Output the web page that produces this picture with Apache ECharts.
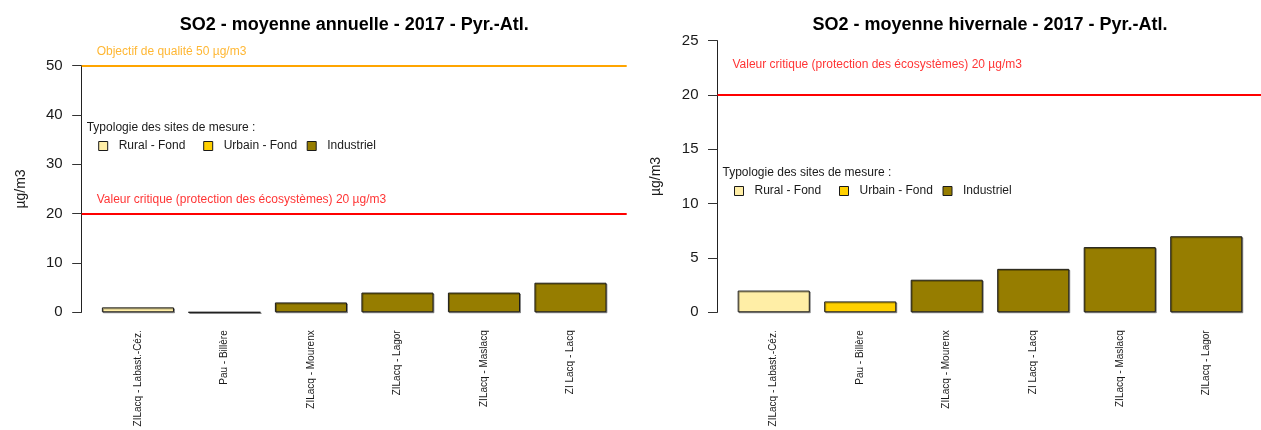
<!DOCTYPE html>
<html>
<head>
<meta charset="utf-8">
<script src="https://cdn.jsdelivr.net/npm/echarts@6/dist/echarts.min.js"></script>
<style>
  html, body { margin: 0; padding: 0; background: #fff; }
  #chart { width: 1261px; height: 430px; }
</style>
</head>
<body>
<div id="chart"></div>
<script>
// SO2 concentrations 2017, Pyrénées-Atlantiques (µg/m3)
const typologies = ['Rural - Fond', 'Urbain - Fond', 'Industriel'];
const typologyColors = ['#FFEEA6', '#FFD000', '#967D00'];

const annualSites = ['ZILacq - Labast.-Céz.', 'Pau - Billère', 'ZILacq - Mourenx', 'ZILacq - Lagor', 'ZILacq - Maslacq', 'ZI Lacq - Lacq'];
const annualTypes = ['Rural - Fond', 'Urbain - Fond', 'Industriel', 'Industriel', 'Industriel', 'Industriel'];
const annualValues = [1, 0, 2, 4, 4, 6];

const winterSites = ['ZILacq - Labast.-Céz.', 'Pau - Billère', 'ZILacq - Mourenx', 'ZI Lacq - Lacq', 'ZILacq - Maslacq', 'ZILacq - Lagor'];
const winterTypes = ['Rural - Fond', 'Urbain - Fond', 'Industriel', 'Industriel', 'Industriel', 'Industriel'];
const winterValues = [2, 1, 3, 4, 6, 7];

const annualThresholds = [
  { value: 50, text: 'Objectif de qualité 50 µg/m3', color: '#FFA500' },
  { value: 20, text: 'Valeur critique (protection des écosystèmes) 20 µg/m3', color: '#FF0000' }
];
const winterThresholds = [
  { value: 20, text: 'Valeur critique (protection des écosystèmes) 20 µg/m3', color: '#FF0000' }
];

const annualAxis = { max: 50, interval: 10 };
const winterAxis = { max: 25, interval: 5 };

const FONT = '"Liberation Sans", Arial, Helvetica, sans-serif';
const TEXT = '#1a1a1a';

// Panel geometry: plot region spans plotLeft..plotLeft+plotWidth,
// bars occupy an inner band (R barplot style margins).
const panels = [
  { title: 'SO2 - moyenne annuelle - 2017 - Pyr.-Atl.', sites: annualSites, types: annualTypes, values: annualValues,
    thresholds: annualThresholds, axis: annualAxis, plotLeft: 81.7, top: 65.7, legendY: 129 },
  { title: 'SO2 - moyenne hivernale - 2017 - Pyr.-Atl.', sites: winterSites, types: winterTypes, values: winterValues,
    thresholds: winterThresholds, axis: winterAxis, plotLeft: 717.5, top: 40.7, legendY: 174 }
];
const UNIT = 72.09;               // one bar width in px
const PLOT_WIDTH = 7.56 * UNIT;   // plot region width
const BAR_INSET = 0.18 * UNIT;    // gap between plot edge and category band
const BOTTOM = 430 - 312.3;

const option = {
  animation: false,
  backgroundColor: '#fff',
  textStyle: { fontFamily: FONT },
  title: [], grid: [], xAxis: [], yAxis: [], series: [], legend: []
};

panels.forEach((p, k) => {
  const gLines = 2 * k, gBars = 2 * k + 1;
  // Title centred on the plot region
  option.title.push({
    text: p.title, left: p.plotLeft + PLOT_WIDTH / 2, top: 16, textAlign: 'center', padding: 0,
    textStyle: { fontFamily: FONT, fontSize: 18, fontWeight: 'bold', color: '#000' }
  });
  option.title.push({
    text: 'Typologie des sites de mesure :', left: p.plotLeft + 5, top: p.legendY - 7, padding: 0,
    textStyle: { fontFamily: FONT, fontSize: 12, fontWeight: 'normal', color: TEXT }
  });

  // Grid holding the y axis and the reference lines
  option.grid.push({ left: p.plotLeft, width: PLOT_WIDTH, top: p.top, bottom: BOTTOM, containLabel: false });
  // Grid holding the bars
  option.grid.push({ left: p.plotLeft + BAR_INSET, width: PLOT_WIDTH - 2 * BAR_INSET, top: p.top, bottom: BOTTOM, containLabel: false });

  option.xAxis.push({ gridIndex: gLines, type: 'value', min: 0, max: 1, show: false });
  option.xAxis.push({
    gridIndex: gBars, type: 'category', data: p.sites,
    axisLine: { show: false }, axisTick: { show: false },
    axisLabel: { interval: 0, rotate: 90, margin: 18, fontSize: 10, color: TEXT, fontFamily: FONT }
  });

  option.yAxis.push({
    gridIndex: gLines, type: 'value', min: 0, max: p.axis.max, interval: p.axis.interval,
    name: 'µg/m3', nameLocation: 'middle', nameGap: 54,
    nameTextStyle: { fontSize: 14, color: TEXT, fontFamily: FONT },
    axisLine: { show: true, lineStyle: { color: '#222', width: 1 } },
    axisTick: { show: true, length: 9.5, lineStyle: { color: '#333' } },
    axisLabel: { fontSize: 15, color: TEXT, margin: 19, fontFamily: FONT },
    splitLine: { show: false }
  });
  option.yAxis.push({ gridIndex: gBars, type: 'value', min: 0, max: p.axis.max, show: false });

  // Reference lines with their captions
  p.thresholds.forEach(t => {
    option.series.push({
      type: 'scatter', xAxisIndex: gLines, yAxisIndex: gLines, silent: true, clip: false,
      symbolSize: 0,
      data: [[15 / PLOT_WIDTH, t.value + 2.8]],
      label: { show: true, position: 'right', distance: 0, formatter: t.text,
               color: t.color, fontSize: 12, fontFamily: FONT },
      markLine: {
        silent: true, symbol: 'none', label: { show: false },
        lineStyle: { color: t.color, width: 2, type: 'solid' },
        data: [{ yAxis: t.value }]
      }
    });
  });

  // One bar series per site typology, overlapping on the same slots
  typologies.forEach((name, i) => {
    option.series.push({
      type: 'bar', name, xAxisIndex: gBars, yAxisIndex: gBars,
      barGap: '-100%', barCategoryGap: '16.67%',
      data: p.values.map((v, j) => (p.types[j] === name ? v : '-')),
      itemStyle: {
        color: typologyColors[i], borderColor: '#1a1a1a', borderWidth: 1,
        shadowColor: 'rgba(0,0,0,0.35)', shadowOffsetX: 1, shadowOffsetY: 1, shadowBlur: 0
      }
    });
  });

  // Legend entries, one per typology
  const itemOffsets = [16.5, 121.5, 225];
  typologies.forEach((name, i) => {
    option.legend.push({
      data: [name], left: p.plotLeft + itemOffsets[i], top: p.legendY + 18 - 7, padding: 0,
      icon: 'rect', itemWidth: 9, itemHeight: 9, selectedMode: false,
      itemStyle: { borderColor: '#1a1a1a', borderWidth: 1, shadowBlur: 0, shadowOffsetX: 0, shadowOffsetY: 0 },
      textStyle: { fontSize: 12, color: TEXT, fontFamily: FONT, padding: [0, 0, 0, 6] }
    });
  });
});

const chart = echarts.init(document.getElementById('chart'), null, { renderer: 'canvas' });
chart.setOption(option);
</script>
</body>
</html>
